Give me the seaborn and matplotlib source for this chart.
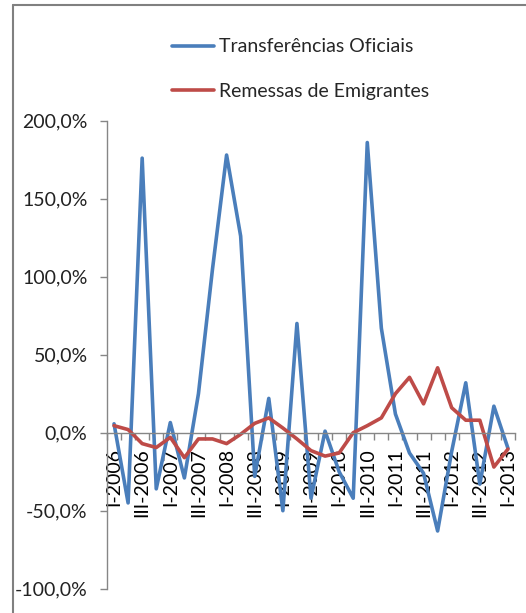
import numpy as np
import pandas as pd
import matplotlib
matplotlib.use('Agg')
import matplotlib.pyplot as plt
from matplotlib.lines import Line2D
import seaborn as sns

# quarterly growth rates (%), I-2006 .. I-2013
quarters = [f'{q}-{y}' for y in range(2006, 2014) for q in ['I', 'II', 'III', 'IV']][:29]
transferencias = [5.7, -45, 176, -36, 6.5, -29, 25, 105, 178, 126, -28, 22, -50, 70, -42,
                  1, -25, -42, 186, 67, 12, -13, -26, -63, -12, 32, -33, 17, -10]
remessas = [4.5, 2, -7, -9.5, -3, -16, -4, -4, -7, -1, 6, 9.5, 3, -4, -11.5,
            -15, -13, 0, 4.5, 9.5, 25, 35.5, 18.5, 41.6, 16, 8, 8, -22, -10.5]
series_names = ['Transferências Oficiais', 'Remessas de Emigrantes']
colors = ['#4A7EBB', '#BE4B48']
yticks = [-100, -50, 0, 50, 100, 150, 200]
ytick_labels = ['-100,0%', '-50,0%', '0,0%', '50,0%', '100,0%', '150,0%', '200,0%']

df = pd.DataFrame({
    'idx': list(range(len(quarters))) * 2,
    'valor': transferencias + remessas,
    'serie': [series_names[0]] * len(quarters) + [series_names[1]] * len(quarters),
})

sns.set_style('white')
plt.rcParams['font.family'] = ['Lato', 'DejaVu Sans']

fig = plt.figure(figsize=(5.26, 6.13), dpi=100)
ax = fig.add_axes([107 / 526, 24.3 / 613, 408 / 526, 468 / 613])

sns.lineplot(data=df, x='idx', y='valor', hue='serie', palette=colors,
             linewidth=2.6, ax=ax, legend=False)

ax.set_xlim(-0.5, len(quarters) - 0.5)
ax.set_ylim(-100, 200)
ax.set_xlabel('')
ax.set_ylabel('')
ax.set_axisbelow(True)

axis_gray = '#868686'
for s in ['top', 'right']:
    ax.spines[s].set_visible(False)
ax.spines['bottom'].set_position(('data', 0))
ax.spines['bottom'].set_color(axis_gray)
ax.spines['left'].set_color(axis_gray)
ax.spines['bottom'].set_linewidth(1.0)
ax.spines['left'].set_linewidth(1.0)

ax.set_yticks(yticks)
ax.set_yticklabels(ytick_labels, fontsize=14, color='#222222')
ax.tick_params(axis='y', which='major', left=True, length=5, width=1, color=axis_gray, pad=9)

ax.set_xticks(range(0, len(quarters), 2))
ax.set_xticklabels(quarters[::2], rotation=90, fontsize=14, color='black')
ax.set_xticks(np.arange(-0.5, len(quarters), 1), minor=True)
ax.tick_params(axis='x', which='major', bottom=True, length=0, pad=11)
ax.tick_params(axis='x', which='minor', bottom=True, length=5, width=1, color=axis_gray)

handles = [Line2D([], [], color=c, linewidth=2.6) for c in colors]
fig.legend(handles, series_names, loc='upper left', bbox_to_anchor=(154 / 526, 1 - 21 / 613),
           frameon=False, fontsize=14, handlelength=2.16, handletextpad=0.3, labelspacing=1.42)

# outer chart frame (only left and top visible)
fig.add_artist(Line2D([13 / 526, 13 / 526], [0, 1 - 5 / 613], transform=fig.transFigure,
                      color='#808080', linewidth=1.5))
fig.add_artist(Line2D([13 / 526, 1], [1 - 5 / 613, 1 - 5 / 613], transform=fig.transFigure,
                      color='#808080', linewidth=1.5))

fig.savefig('out.png', dpi=100)
